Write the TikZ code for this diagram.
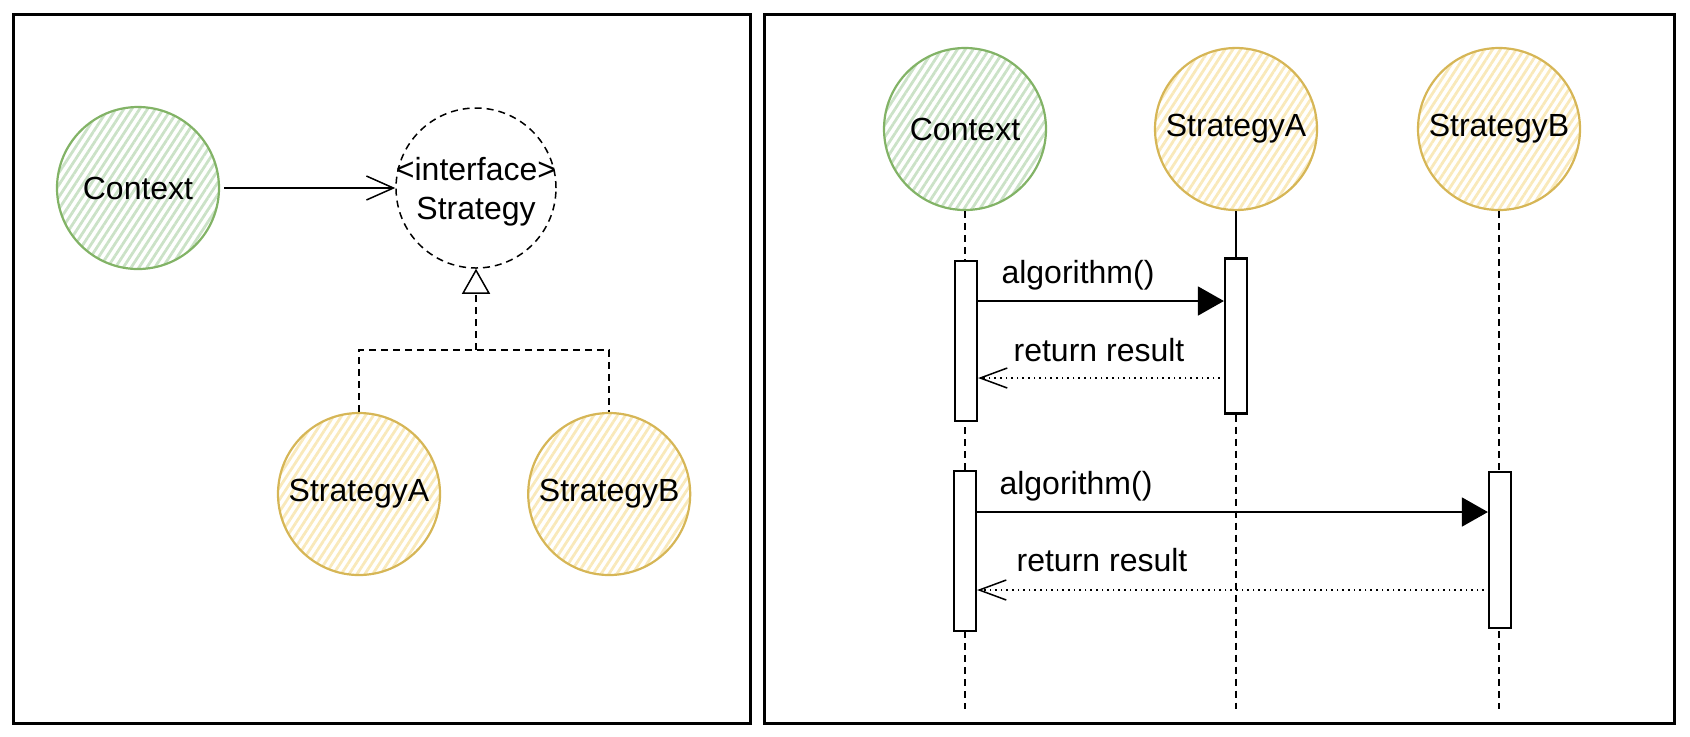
\documentclass[tikz,border=0pt]{standalone}
\usepackage{fontspec}
\setmainfont{Liberation Sans}
\usetikzlibrary{arrows.meta, positioning, patterns.meta}
\definecolor{clrCtx}{HTML}{D5E8D4}
\definecolor{clrCtxBd}{HTML}{82B366}
\definecolor{clrStr}{HTML}{FFF2CC}
\definecolor{clrStrBd}{HTML}{D6B656}

\begin{document}
\begin{tikzpicture}[
  x=0.5pt, y=-0.5pt,
  every node/.style = {font=\fontsize{16}{18.5}\selectfont},
  ctx/.style = {
    circle, minimum size=81pt, inner sep=0pt,
    draw=clrCtxBd, line width=1.1pt,
    pattern={Lines[angle=57, distance=3.3pt, line width=1.4pt]},
    pattern color=clrCtx!88!clrCtxBd
  },
  strat/.style = {ctx, draw=clrStrBd, pattern color=clrStr!85!clrStrBd},
  iface/.style = {
    circle, minimum size=80pt, inner sep=0pt,
    draw, line width=0.75pt, dash pattern=on 3.5pt off 2.5pt
  },
  act/.style   = {rectangle, draw, fill=white, line width=1.1pt,
                  minimum width=11pt, inner sep=0pt},
  panel/.style = {line width=1.5pt},
  life/.style  = {line width=0.75pt, dash pattern=on 3.5pt off 2.5pt},
  assoc/.style = {-{Straight Barb[length=13.5pt, width=12pt]},
                  line width=0.75pt, shorten <=2pt},
  realize/.style = {line width=0.75pt, dash pattern=on 3.5pt off 2.5pt},
  callarr/.style = {-{Triangle[length=13pt, width=14.5pt]}, line width=0.8pt},
  retarr/.style  = {-{Straight Barb[length=13.5pt, width=10pt]},
                    line width=0.75pt, dash pattern=on 0.8pt off 2pt,
                    shorten <=2pt}
]
  \useasboundingbox (0,0) rectangle (1690,736);
  \draw[panel] (13,14) rectangle (750,723);
  \draw[panel] (764,14) rectangle (1674,723);

  \node[ctx]   (ctxL) at (138,188) {Context};
  \node[iface, label={[align=center, yshift=-2pt,
        font=\fontsize{16}{19.5}\selectfont]center:{<interface>\\Strategy}}] (ifc) at (476,188) {};
  \node[strat] (saL) at (359,494) {StrategyA};
  \node[strat, right=43pt of saL] (sbL) {StrategyB};
  \coordinate (fork) at (476,350);

  \draw[assoc] (ctxL) -- (ifc);
  \draw[realize] (saL.north) |- (fork) -| (sbL.north);
  \draw[realize, -{Triangle[open, length=12.5pt, width=14pt]}] (fork) -- (ifc.south);

  \node[ctx]   (ctxR) at (965,129)  {Context};
  \node[strat] (saR)  at (1236,129) {StrategyA};
  \node[strat] (sbR)  at (1499,129) {StrategyB};
  \coordinate (ctxEnd) at (965,709);
  \coordinate (saEnd)  at (1236,709);
  \coordinate (sbEnd)  at (1499,709);

  \draw[life] (ctxR.south) -- (ctxEnd);
  \draw[life] (sbR.south)  -- (sbEnd);

  \node[act, minimum height=80pt]   (actC1) at (966,341)  {};
  \node[act, minimum height=77.5pt] (actA)  at (1236,336) {};
  \node[act, minimum height=80pt]   (actC2) at (965,551)  {};
  \node[act, minimum height=78pt]   (actB)  at (1500,550) {};

  \draw[line width=0.75pt] (saR.south) -- (actA.north);
  \draw[life] (actA.south) -- (saEnd);

  \draw[callarr] ([yshift=20pt]actC1.east)   -- ([yshift=17.5pt]actA.west);
  \draw[retarr]  ([yshift=-21pt]actA.west)   -- ([yshift=-18.5pt]actC1.east);
  \draw[callarr] ([yshift=19.5pt]actC2.east) -- ([yshift=19pt]actB.west);
  \draw[retarr]  ([yshift=-20pt]actB.west)   -- ([yshift=-19.5pt]actC2.east);

  \node (lblCall1) at (1078,275) {algorithm()};
  \node (lblRet1)  at (1099,350) {return result};
  \node (lblCall2) at (1076,486) {algorithm()};
  \node (lblRet2)  at (1102,560) {return result};
\end{tikzpicture}
\end{document}
